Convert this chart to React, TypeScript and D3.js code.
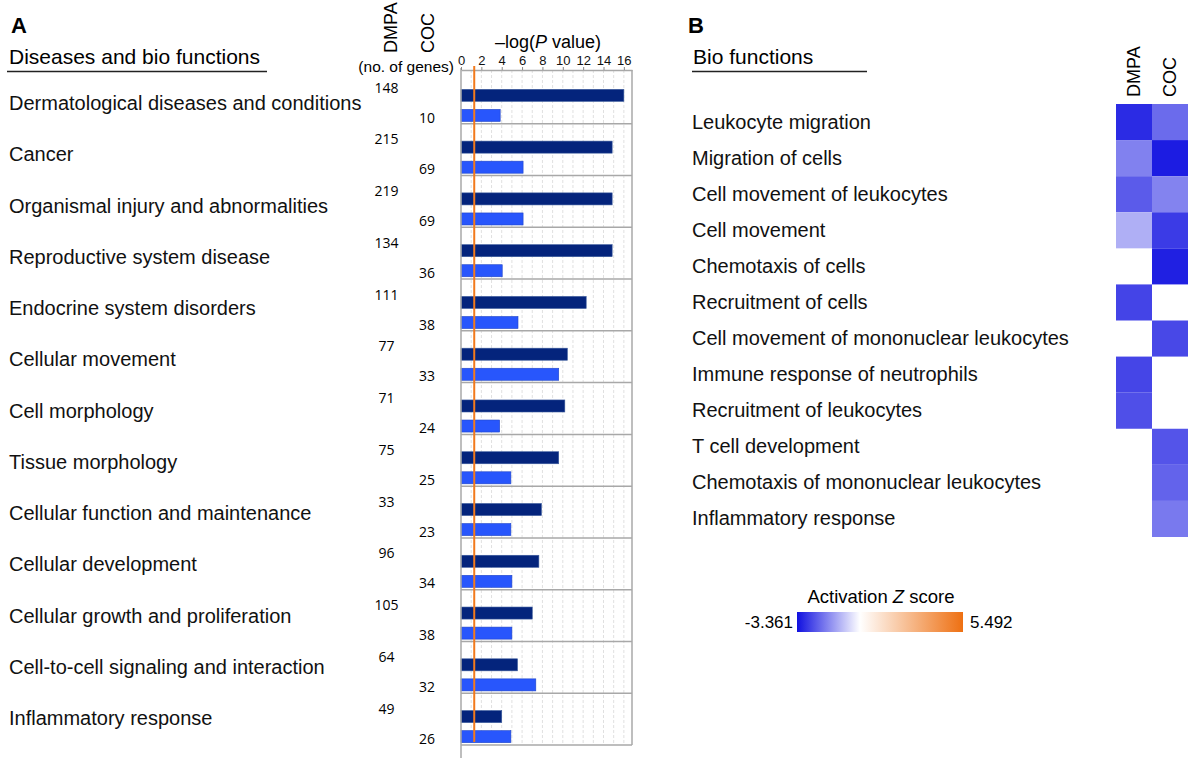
import React, { useEffect, useRef } from 'react';
import * as d3 from 'd3';

const categories = [
  'Dermatological diseases and conditions',
  'Cancer',
  'Organismal injury and abnormalities',
  'Reproductive system disease',
  'Endocrine system disorders',
  'Cellular movement',
  'Cell morphology',
  'Tissue morphology',
  'Cellular function and maintenance',
  'Cellular development',
  'Cellular growth and proliferation',
  'Cell-to-cell signaling and interaction',
  'Inflammatory response',
];
const dmpaLogP = [16.0, 14.85, 14.85, 14.85, 12.3, 10.45, 10.2, 9.6, 7.9, 7.65, 7.0, 5.55, 4.0];
const cocLogP = [3.85, 6.1, 6.1, 4.05, 5.6, 9.6, 3.8, 4.9, 4.9, 5.0, 5.0, 7.35, 4.9];
const dmpaGenes = [148, 215, 219, 134, 111, 77, 71, 75, 33, 96, 105, 64, 49];
const cocGenes = [10, 69, 69, 36, 38, 33, 24, 25, 23, 34, 38, 32, 26];
const series = ['DMPA', 'COC'];
const xTicks = [0, 2, 4, 6, 8, 10, 12, 14, 16];
const threshold = 1.3; // -log(0.05)

const bioFunctions = [
  'Leukocyte migration',
  'Migration of cells',
  'Cell movement of leukocytes',
  'Cell movement',
  'Chemotaxis of cells',
  'Recruitment of cells',
  'Cell movement of mononuclear leukocytes',
  'Immune response of neutrophils',
  'Recruitment of leukocytes',
  'T cell development',
  'Chemotaxis of mononuclear leukocytes',
  'Inflammatory response',
];
const dmpaZ = [-2.98, -1.77, -2.31, -1.12, null, -2.63, null, -2.61, -2.48, null, null, null];
const cocZ = [-2.08, -3.19, -1.74, -2.76, -3.13, null, -2.58, null, null, -2.4, -2.19, -1.88];
const zRange = [-3.361, 5.492];

const FONT = '"Liberation Sans", Arial, sans-serif';

const App = () => {
  const svgRef = useRef<SVGSVGElement>(null);

  useEffect(() => {
    const svg = d3.select(svgRef.current);
    svg.selectAll('*').remove();
    svg.attr('font-family', FONT);

    // ---------- Panel A ----------
    const x = d3.scaleLinear().domain([0, 16.8]).range([461, 632]);
    const y = d3.scaleBand().domain(categories).range([72, 745]);
    const labelY = d3.scalePoint().domain(categories).range([110, 725]);
    const h = y.bandwidth();
    const ySub = d3.scaleBand().domain(series).range([0.335 * h, 0.955 * h]).paddingInner(0.4);

    svg.append('text').attr('x', 11).attr('y', 33).attr('font-size', 22).attr('font-weight', 'bold').text('A');
    svg.append('text').attr('x', 9).attr('y', 64).attr('font-size', 21).text('Diseases and bio functions');
    svg.append('line').attr('x1', 7).attr('x2', 267).attr('y1', 71.5).attr('y2', 71.5).attr('stroke', '#222').attr('stroke-width', 1.5);

    svg.append('g')
      .selectAll('text')
      .data(categories)
      .join('text')
        .attr('x', 9)
        .attr('y', d => labelY(d))
        .attr('font-size', 20)
        .attr('fill', '#111')
        .text(d => d);

    // column headers
    svg.append('text').attr('transform', 'translate(397,53) rotate(-90)').attr('font-size', 18).text('DMPA');
    svg.append('text').attr('transform', 'translate(434,53) rotate(-90)').attr('font-size', 18).text('COC');
    svg.append('text').attr('x', 454).attr('y', 72).attr('text-anchor', 'end').attr('font-size', 15.5).text('(no. of genes)');

    const title = svg.append('text').attr('x', 548).attr('y', 48).attr('text-anchor', 'middle').attr('font-size', 18);
    title.append('tspan').text('–log(');
    title.append('tspan').attr('font-style', 'italic').text('P');
    title.append('tspan').text(' value)');

    // gene counts
    svg.append('g')
      .selectAll('text')
      .data(categories)
      .join('text')
        .attr('x', 386.5)
        .attr('y', d => y(d) + 20.5)
        .attr('text-anchor', 'middle')
        .attr('font-family', '"Open Sans", sans-serif')
        .attr('font-size', 14)
        .text((d, i) => dmpaGenes[i]);
    svg.append('g')
      .selectAll('text')
      .data(categories)
      .join('text')
        .attr('x', 427)
        .attr('y', d => y(d) + 50.5)
        .attr('text-anchor', 'middle')
        .attr('font-family', '"Open Sans", sans-serif')
        .attr('font-size', 14)
        .text((d, i) => cocGenes[i]);

    // dashed gridlines every unit
    svg.append('g')
      .selectAll('line')
      .data(d3.range(1, 17))
      .join('line')
        .attr('x1', d => x(d))
        .attr('x2', d => x(d))
        .attr('y1', 70)
        .attr('y2', 745)
        .attr('stroke', '#e0e0e0')
        .attr('stroke-dasharray', '3,2');

    // bars
    const rows = categories.map((c, i) => ({ c, DMPA: dmpaLogP[i], COC: cocLogP[i] }));
    const colors = { DMPA: '#04247c', COC: '#2856fc' };
    svg.append('g')
      .selectAll('g')
      .data(rows)
      .join('g')
        .attr('transform', d => `translate(0,${y(d.c)})`)
      .selectAll('rect')
      .data(d => series.map(s => ({ s, v: d[s] })))
      .join('rect')
        .attr('x', x(0))
        .attr('y', d => ySub(d.s))
        .attr('width', d => x(d.v) - x(0))
        .attr('height', ySub.bandwidth())
        .attr('fill', d => colors[d.s])
        .attr('stroke', d => (d.s === 'DMPA' ? '#3a5a9c' : '#1f45c8'))
        .attr('stroke-width', 0.6);

    // row separators
    svg.append('g')
      .selectAll('line')
      .data(categories)
      .join('line')
        .attr('x1', x(0))
        .attr('x2', 632)
        .attr('y1', d => y(d) + h)
        .attr('y2', d => y(d) + h)
        .attr('stroke', '#a8a8a8')
        .attr('stroke-width', 1.5);

    svg.append('line').attr('x1', 461).attr('x2', 461).attr('y1', 68).attr('y2', 758).attr('stroke', '#a8a8a8').attr('stroke-width', 1.5);
    svg.append('line').attr('x1', 632).attr('x2', 632).attr('y1', 70).attr('y2', 745).attr('stroke', '#a8a8a8').attr('stroke-width', 1.5);

    // top axis
    const axis = svg.append('g')
      .attr('transform', 'translate(0,70)')
      .call(d3.axisTop(x).tickValues(xTicks).tickSize(3).tickSizeOuter(0).tickPadding(2));
    axis.select('.domain').attr('stroke', '#a8a8a8').attr('stroke-width', 1.5);
    axis.selectAll('.tick line').attr('stroke', '#888');
    axis.selectAll('.tick text').attr('font-family', FONT).attr('font-size', 13).attr('fill', '#111');

    // significance threshold
    svg.append('line')
      .attr('x1', x(threshold))
      .attr('x2', x(threshold))
      .attr('y1', 66)
      .attr('y2', 742)
      .attr('stroke', '#f27a1c')
      .attr('stroke-width', 2);

    // ---------- Panel B ----------
    svg.append('text').attr('x', 688).attr('y', 33).attr('font-size', 22).attr('font-weight', 'bold').text('B');
    svg.append('text').attr('x', 693).attr('y', 64).attr('font-size', 21).text('Bio functions');
    svg.append('line').attr('x1', 692).attr('x2', 867).attr('y1', 71.5).attr('y2', 71.5).attr('stroke', '#222').attr('stroke-width', 1.5);

    const fy = d3.scaleBand().domain(bioFunctions).range([104, 537]);
    const fx = d3.scaleBand().domain(series).range([1116, 1188]);
    const color = d3.scaleLinear<string>()
      .domain([zRange[0], 0, zRange[1]])
      .range(['#1010e0', '#ffffff', '#ee7012']);

    svg.append('g')
      .selectAll('text')
      .data(bioFunctions)
      .join('text')
        .attr('x', 692)
        .attr('y', d => fy(d) + fy.bandwidth() / 2 + 6.5)
        .attr('font-size', 20)
        .attr('fill', '#111')
        .text(d => d);

    const cells = [];
    bioFunctions.forEach((f, i) => {
      if (dmpaZ[i] !== null) cells.push({ f, s: 'DMPA', z: dmpaZ[i] });
      if (cocZ[i] !== null) cells.push({ f, s: 'COC', z: cocZ[i] });
    });
    svg.append('g')
      .selectAll('rect')
      .data(cells)
      .join('rect')
        .attr('x', d => fx(d.s))
        .attr('y', d => fy(d.f))
        .attr('width', fx.bandwidth())
        .attr('height', fy.bandwidth())
        .attr('fill', d => color(d.z));

    svg.append('g')
      .selectAll('text')
      .data(series)
      .join('text')
        .attr('transform', d => `translate(${fx(d) + fx.bandwidth() / 2 + 6},97) rotate(-90)`)
        .attr('font-size', 18)
        .text(d => d);

    // color legend
    const defs = svg.append('defs');
    const grad = defs.append('linearGradient').attr('id', 'zgrad');
    const lx = d3.scaleLinear().domain(zRange).range([797, 963]);
    [zRange[0], 0, zRange[1]].forEach(v => {
      grad.append('stop')
        .attr('offset', `${((lx(v) - 797) / 166) * 100}%`)
        .attr('stop-color', color(v));
    });
    svg.append('rect').attr('x', 797).attr('y', 612).attr('width', 166).attr('height', 20).attr('fill', 'url(#zgrad)');
    const lt = svg.append('text').attr('x', 881).attr('y', 603).attr('text-anchor', 'middle').attr('font-size', 18.5);
    lt.append('tspan').text('Activation ');
    lt.append('tspan').attr('font-style', 'italic').text('Z');
    lt.append('tspan').text(' score');
    svg.append('text').attr('x', 793).attr('y', 628).attr('text-anchor', 'end').attr('font-size', 17).text(zRange[0].toFixed(3));
    svg.append('text').attr('x', 970).attr('y', 628).attr('font-size', 17).text(zRange[1].toFixed(3));
  }, []);

  return (
    <svg
      ref={svgRef}
      width={1188}
      height={758}
      style={{ position: 'absolute', left: 0, top: 0, background: '#fff' }}
    />
  );
};

export default App;
